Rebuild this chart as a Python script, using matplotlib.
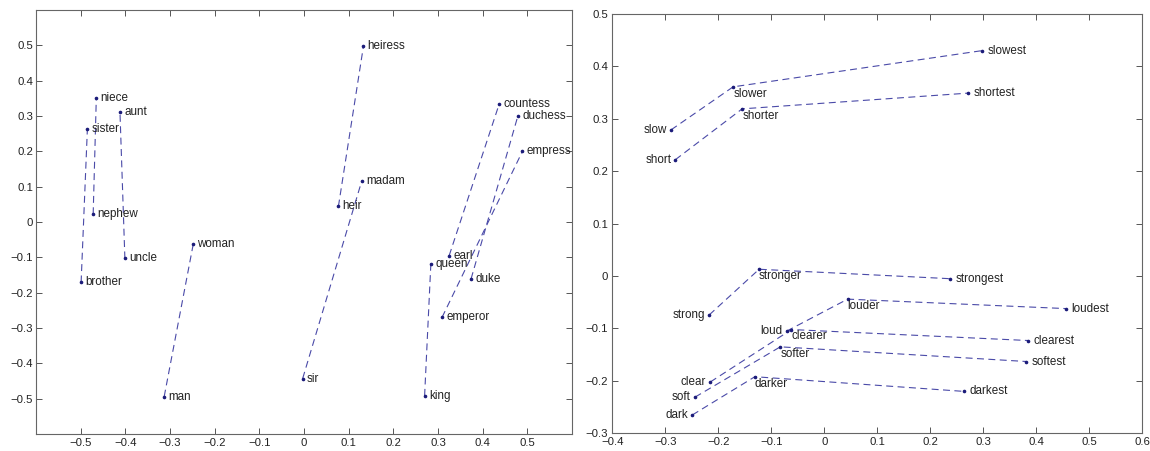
import matplotlib
matplotlib.use("Agg")
import matplotlib.pyplot as plt

plt.rcParams['font.family'] = ['Liberation Sans', 'DejaVu Sans']
plt.rcParams['lines.scale_dashes'] = False

# ---- Left panel data (gender relations) ----
left_words = ["niece", "aunt", "sister", "nephew", "uncle", "brother", "woman", "man",
              "heiress", "madam", "heir", "sir",
              "countess", "duchess", "empress", "earl", "queen", "duke", "emperor", "king"]
left_x = [-0.465, -0.412, -0.485, -0.472, -0.401, -0.499, -0.248, -0.313,
          0.133, 0.129, 0.077, -0.003,
          0.437, 0.479, 0.489, 0.325, 0.284, 0.374, 0.309, 0.270]
left_y = [0.350, 0.311, 0.262, 0.022, -0.103, -0.171, -0.063, -0.494,
          0.497, 0.115, 0.044, -0.443,
          0.334, 0.301, 0.200, -0.095, -0.118, -0.161, -0.270, -0.492]
left_pairs = [("brother", "sister"), ("nephew", "niece"), ("uncle", "aunt"), ("man", "woman"),
              ("heir", "heiress"), ("sir", "madam"), ("earl", "countess"), ("duke", "duchess"),
              ("emperor", "empress"), ("king", "queen")]
left_xticks = [-0.5, -0.4, -0.3, -0.2, -0.1, 0, 0.1, 0.2, 0.3, 0.4, 0.5]
left_yticks = [-0.5, -0.4, -0.3, -0.2, -0.1, 0, 0.1, 0.2, 0.3, 0.4, 0.5]

# ---- Right panel data (comparative / superlative) ----
right_words = ["slow", "slower", "slowest", "short", "shorter", "shortest",
               "strong", "stronger", "strongest", "loud", "louder", "loudest",
               "clear", "clearer", "clearest", "soft", "softer", "softest",
               "dark", "darker", "darkest"]
right_x = [-0.289, -0.172, 0.297, -0.281, -0.155, 0.271,
           -0.217, -0.123, 0.237, -0.071, 0.044, 0.455,
           -0.215, -0.062, 0.385, -0.244, -0.083, 0.381,
           -0.249, -0.131, 0.263]
right_y = [0.279, 0.361, 0.430, 0.222, 0.319, 0.349,
           -0.074, 0.013, -0.005, -0.105, -0.044, -0.062,
           -0.202, -0.102, -0.123, -0.231, -0.135, -0.163,
           -0.265, -0.192, -0.220]
right_chains = [("slow", "slower", "slowest"), ("short", "shorter", "shortest"),
                ("strong", "stronger", "strongest"), ("loud", "louder", "loudest"),
                ("clear", "clearer", "clearest"), ("soft", "softer", "softest"),
                ("dark", "darker", "darkest")]
right_xticks = [-0.4, -0.3, -0.2, -0.1, 0, 0.1, 0.2, 0.3, 0.4, 0.5, 0.6]
right_yticks = [-0.3, -0.2, -0.1, 0, 0.1, 0.2, 0.3, 0.4, 0.5]

LINE_C = '#4a4aa8'
DOT_C = '#1c1c7a'
TXT = 8.4
TICK = 8.2
DASH = (0, (5.0, 3.2))

fig = plt.figure(figsize=(11.5, 4.51), dpi=100)
axL = fig.add_axes([0.0313, 0.0377, 0.4661, 0.9401])
axR = fig.add_axes([0.5324, 0.0392, 0.4610, 0.9298])


def fmt(v):
    s = f"{v:g}"
    return s.replace("-", "\u2212")


def style(ax, xt, yt, xlim, ylim, ypad):
    ax.set_xlim(*xlim)
    ax.set_ylim(*ylim)
    ax.set_xticks(xt)
    ax.set_yticks(yt)
    ax.set_xticklabels([fmt(v) for v in xt])
    ax.set_yticklabels([fmt(v) for v in yt])
    ax.tick_params(direction='in', length=4, width=0.7, color='#555555',
                   top=True, right=True, labelsize=TICK, labelcolor='#222222')
    ax.tick_params(axis='x', pad=3)
    ax.tick_params(axis='y', pad=ypad)
    for s in ax.spines.values():
        s.set_color('#666666')
        s.set_linewidth(0.8)


# Left panel
posL = {w: (x, y) for w, x, y in zip(left_words, left_x, left_y)}
for a, b in left_pairs:
    axL.plot([posL[a][0], posL[b][0]], [posL[a][1], posL[b][1]],
             color=LINE_C, lw=0.8, linestyle=DASH)
axL.plot(left_x, left_y, linestyle='none', marker='o', ms=1.6, color=DOT_C)
for w, x, y in zip(left_words, left_x, left_y):
    axL.annotate(w, (x, y), xytext=(3, 0), textcoords='offset points',
                 ha='left', va='center', fontsize=TXT, color='#222222')
style(axL, left_xticks, left_yticks, (-0.6, 0.6), (-0.6, 0.6), 2)

# Right panel
posR = {w: (x, y) for w, x, y in zip(right_words, right_x, right_y)}
for chain in right_chains:
    axR.plot([posR[w][0] for w in chain], [posR[w][1] for w in chain],
             color=LINE_C, lw=0.8, linestyle=DASH)
axR.plot(right_x, right_y, linestyle='none', marker='o', ms=1.6, color=DOT_C)
for chain in right_chains:
    base, comp, sup = chain
    bx, by = posR[base]
    axR.annotate(base, (bx, by), xytext=(-3, 0), textcoords='offset points',
                 ha='right', va='center', fontsize=TXT, color='#222222')
    cx, cy = posR[comp]
    axR.annotate(comp, (cx, cy), xytext=(0, -5), textcoords='offset points',
                 ha='left', va='center', fontsize=TXT, color='#222222')
    sx, sy = posR[sup]
    axR.annotate(sup, (sx, sy), xytext=(4, 0), textcoords='offset points',
                 ha='left', va='center', fontsize=TXT, color='#222222')
style(axR, right_xticks, right_yticks, (-0.4, 0.6), (-0.3, 0.5), 3)

fig.savefig("out.png", dpi=100)
